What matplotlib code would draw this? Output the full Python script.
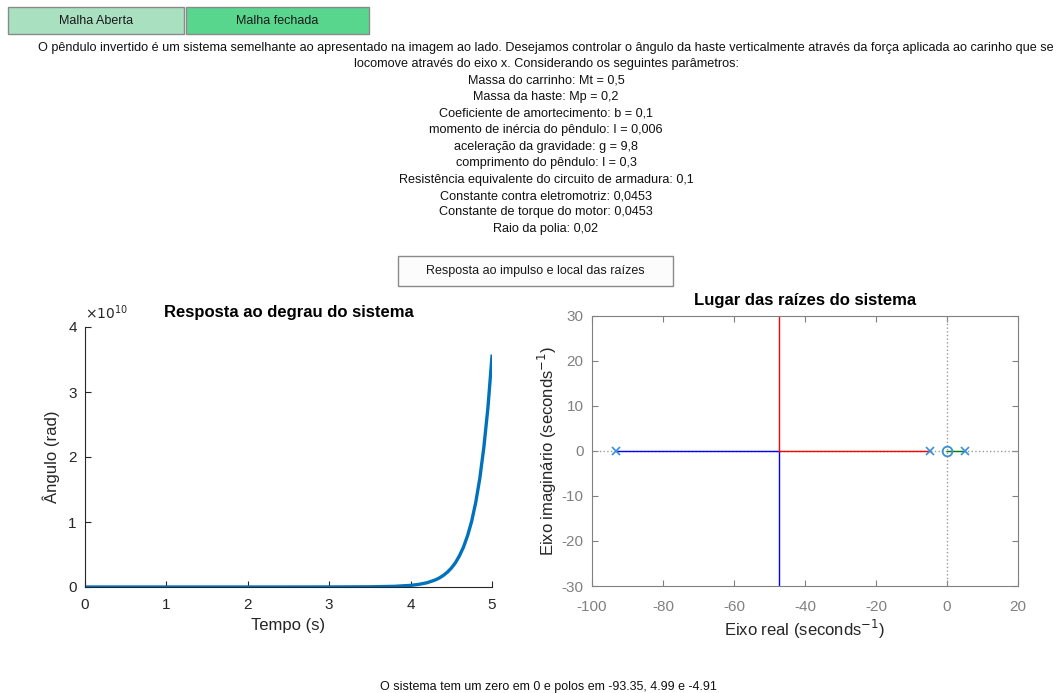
import matplotlib
matplotlib.use("Agg")
import matplotlib.pyplot as plt
from matplotlib.patches import Rectangle

plt.rcParams['font.family'] = ['Liberation Sans', 'DejaVu Sans']
plt.rcParams['axes.unicode_minus'] = False

# dados
tempo = [0, 0.5, 1, 1.5, 2, 2.5, 3, 3.5, 3.8, 4.0, 4.1, 4.2, 4.3, 4.35, 4.4, 4.45,
         4.5, 4.55, 4.6, 4.65, 4.7, 4.75, 4.8, 4.85, 4.9, 4.95, 5.0]
angulo_e10 = [0, 0, 0, 0, 0, 0, 0.0008, 0.003, 0.01, 0.025, 0.04, 0.065, 0.107,
              0.137, 0.176, 0.226, 0.29, 0.372, 0.48, 0.615, 0.79, 1.01, 1.30,
              1.67, 2.15, 2.76, 3.55]

polos = [-93.35, 4.99, -4.91]
zeros = [0]
ponto_quebra = -47.2
ramo_azul_re = [-93.35, ponto_quebra, ponto_quebra]
ramo_azul_im = [0, 0, -60]
ramo_verm_re = [-4.91, ponto_quebra, ponto_quebra]
ramo_verm_im = [0, 0, 60]
ramo_verde_re = [4.99, 0]
ramo_verde_im = [0, 0]

texto = ["O pêndulo invertido é um sistema semelhante ao apresentado na imagem ao lado. Desejamos controlar o ângulo da haste verticalmente através da força aplicada ao carinho que se",
         "locomove através do eixo x. Considerando os seguintes parâmetros:",
         "Massa do carrinho: Mt = 0,5",
         "Massa da haste: Mp = 0,2",
         "Coeficiente de amortecimento: b = 0,1",
         "momento de inércia do pêndulo: I = 0,006",
         "aceleração da gravidade: g = 9,8",
         "comprimento do pêndulo: l = 0,3",
         "Resistência equivalente do circuito de armadura: 0,1",
         "Constante contra eletromotriz: 0,0453",
         "Constante de torque do motor: 0,0453",
         "Raio da polia: 0,02"]

W, H = 1056, 693
fig = plt.figure(figsize=(W / 100, H / 100), dpi=100)


def px(x, y):
    return x / W, 1 - y / H


def botao(x0, y0, x1, y1, cor, rotulo):
    fig.patches.append(Rectangle((x0 / W, 1 - y1 / H), (x1 - x0) / W, (y1 - y0) / H,
                                 transform=fig.transFigure, facecolor=cor,
                                 edgecolor='#8a8a8a', linewidth=1.0))
    fig.text((x0 + x1) / 2 / W, 1 - (y0 + y1) / 2 / H, rotulo, ha='center', va='center',
             fontsize=9, color='#1a1a1a')


botao(8, 7, 184, 34, '#a9e0c0', 'Malha Aberta')
botao(186, 7, 369, 34, '#58d68d', 'Malha fechada')
botao(398, 256, 673, 286, '#fcfcfc', 'Resposta ao impulso e local das raízes')

for i, linha in enumerate(texto):
    fig.text(*px(546, 48 + i * 16.45), linha, ha='center', va='center', fontsize=9.1, color='#111111')

fig.text(*px(548, 687), 'O sistema tem um zero em 0 e polos em -93.35, 4.99 e -4.91',
         ha='center', va='center', fontsize=9, color='#111111')

# resposta ao degrau
ax1 = fig.add_axes([85 / W, 1 - 587 / H, 407 / W, 260 / H])
ax1.plot(tempo, angulo_e10, color='#0072BD', linewidth=2.4)
ax1.set_xlim(0, 5)
ax1.set_ylim(0, 4)
ax1.set_xticks([0, 1, 2, 3, 4, 5])
ax1.set_yticks([0, 1, 2, 3, 4])
for s in ['top', 'right']:
    ax1.spines[s].set_visible(False)
for s in ['left', 'bottom']:
    ax1.spines[s].set_color('#262626')
ax1.tick_params(direction='in', colors='#262626', labelsize=11, length=4)
ax1.tick_params(axis='x', pad=8)
ax1.tick_params(axis='y', pad=6)
ax1.set_xlabel('Tempo (s)', fontsize=12, color='#262626', labelpad=4)
ax1.set_ylabel('Ângulo (rad)', fontsize=12, color='#262626', labelpad=6)
ax1.set_title('Resposta ao degrau do sistema', fontsize=12, fontweight='bold', pad=7)
ax1.text(0, 1.02, r'$\times10^{10}$', transform=ax1.transAxes, fontsize=10,
         color='#262626', ha='left', va='bottom')

# lugar das raizes
ax2 = fig.add_axes([592 / W, 1 - 586 / H, 426 / W, 270 / H])
ax2.axhline(0, color='#9a9a9a', linestyle=':', linewidth=1)
ax2.axvline(0, color='#9a9a9a', linestyle=':', linewidth=1)
ax2.plot(ramo_azul_re, ramo_azul_im, color='#0000FF', linewidth=1)
ax2.plot(ramo_verm_re, ramo_verm_im, color='#FF0000', linewidth=1)
ax2.plot(ramo_verde_re, ramo_verde_im, color='#008000', linewidth=1)
ax2.plot(polos, [0] * len(polos), linestyle='none', marker='x', color='#3a8fd6',
         markersize=6, markeredgewidth=1.2)
ax2.plot(zeros, [0] * len(zeros), linestyle='none', marker='o', markerfacecolor='none',
         markeredgecolor='#3a8fd6', markersize=7, markeredgewidth=1.3)
ax2.set_xlim(-100, 20)
ax2.set_ylim(-30, 30)
ax2.set_xticks(range(-100, 21, 20))
ax2.set_yticks(range(-30, 31, 10))
for s in ax2.spines.values():
    s.set_color('#808080')
ax2.tick_params(direction='in', colors='#808080', labelsize=11, length=4,
                top=True, right=True)
ax2.tick_params(axis='x', pad=10)
ax2.tick_params(axis='y', pad=6)
ax2.set_xlabel('Eixo real (seconds$^{-1}$)', fontsize=12, color='#262626', labelpad=3)
ax2.set_ylabel('Eixo imaginário (seconds$^{-1}$)', fontsize=12, color='#262626', labelpad=2)
ax2.set_title('Lugar das raízes do sistema', fontsize=12, fontweight='bold', pad=8)

fig.savefig('out.png', dpi=100)
